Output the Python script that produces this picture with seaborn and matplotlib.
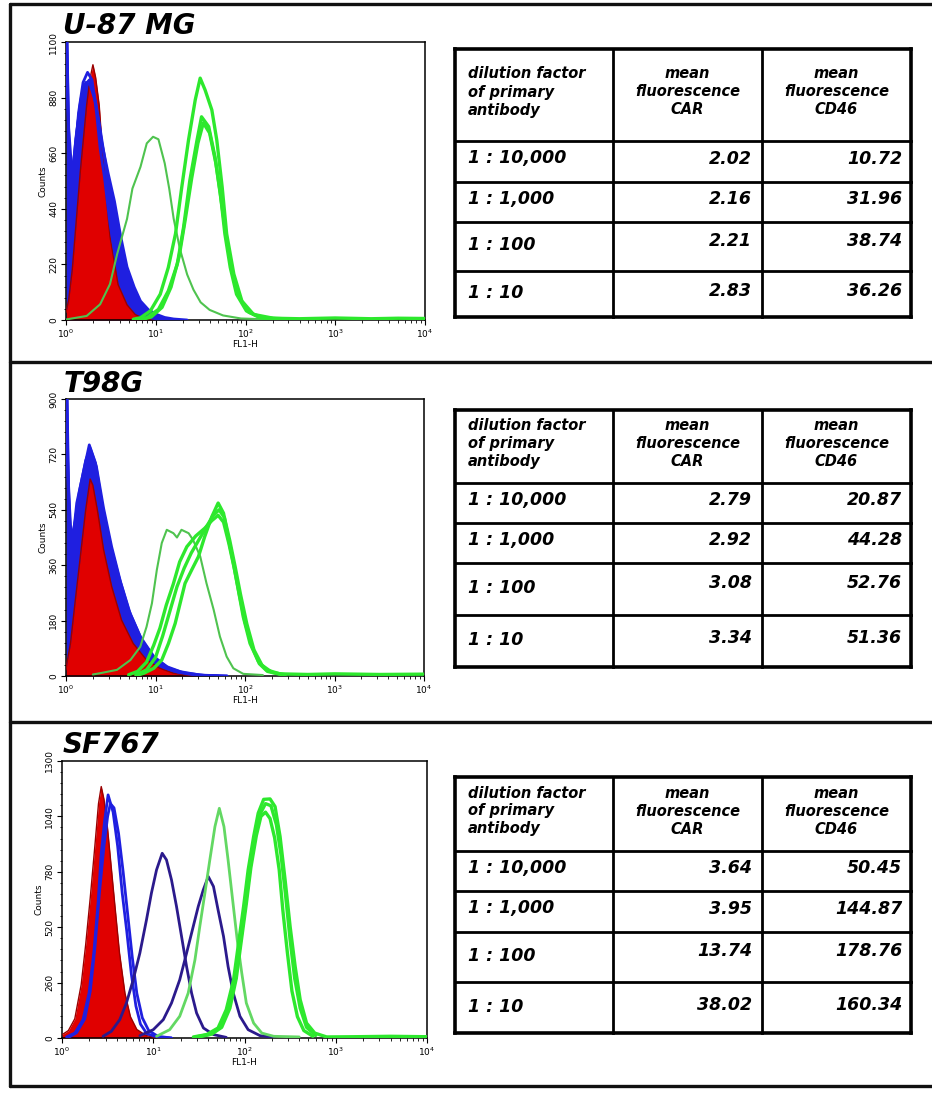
import numpy as np
import pandas as pd
import matplotlib
matplotlib.use('Agg')  # no display
import matplotlib.pyplot as plt
from matplotlib.ticker import FixedLocator, LogLocator, NullFormatter, AutoMinorLocator
import seaborn as sns

# ---------------- data ----------------
# histogram points: (log10 FL1-H, counts)
PANELS = ['U-87 MG', 'T98G', 'SF767']
Y_MAX = [1100, 900, 1300]
Y_TICKS = [[0, 220, 440, 660, 880, 1100],
           [0, 180, 360, 540, 720, 900],
           [0, 260, 520, 780, 1040, 1300]]

# U-87 MG
U87_CTRL = [(0.00, 30), (0.03, 80), (0.07, 200), (0.10, 330), (0.16, 590), (0.23, 850), (0.27, 960),
            (0.30, 1010), (0.33, 960), (0.37, 850), (0.42, 600), (0.49, 330), (0.58, 140), (0.68, 60),
            (0.77, 22), (0.86, 6), (1.00, 0)]
U87_CAR_A = [(0.00, 1300), (0.02, 850), (0.05, 520), (0.09, 620), (0.14, 820), (0.19, 940), (0.24, 980),
             (0.29, 950), (0.34, 820), (0.38, 680), (0.43, 560), (0.49, 380), (0.55, 250), (0.62, 150),
             (0.72, 70), (0.82, 30), (0.95, 8), (1.10, 0)]
U87_CAR_B = [(0.00, 1300), (0.03, 700), (0.06, 540), (0.10, 680), (0.16, 860), (0.21, 930), (0.26, 950),
             (0.31, 900), (0.37, 780), (0.44, 620), (0.50, 480), (0.57, 340), (0.64, 220), (0.72, 130),
             (0.82, 65), (0.92, 28), (1.05, 8), (1.20, 0)]
U87_CAR_C = [(0.00, 1300), (0.03, 760), (0.07, 560), (0.11, 720), (0.17, 880), (0.22, 940), (0.27, 930),
             (0.33, 860), (0.40, 700), (0.47, 580), (0.54, 470), (0.61, 330), (0.68, 210), (0.76, 130),
             (0.83, 75), (0.92, 40), (1.01, 22), (1.10, 10), (1.20, 4), (1.35, 0)]
U87_CD46_A = [(0.00, 2), (0.23, 16), (0.38, 62), (0.49, 142), (0.57, 261), (0.68, 400), (0.74, 520),
              (0.83, 606), (0.90, 699), (0.97, 725), (1.03, 715), (1.10, 620), (1.15, 520), (1.20, 400),
              (1.27, 280), (1.35, 180), (1.42, 120), (1.50, 70), (1.60, 40), (1.75, 18), (1.95, 6),
              (2.20, 3), (2.60, 2)]
U87_CD46_B = [(0.75, 3), (0.83, 9), (0.94, 36), (1.05, 102), (1.14, 208), (1.22, 341), (1.29, 526),
              (1.365, 712), (1.44, 871), (1.495, 957), (1.55, 910), (1.625, 831), (1.68, 712), (1.74, 526),
              (1.79, 341), (1.87, 182), (1.96, 75), (2.09, 22), (2.31, 7), (2.6, 5), (3.0, 8), (3.4, 5),
              (3.7, 7), (4.0, 6)]
U87_CD46_C = [(0.80, 3), (0.90, 9), (1.03, 42), (1.14, 115), (1.24, 221), (1.31, 367), (1.38, 553),
              (1.46, 712), (1.51, 804), (1.59, 765), (1.66, 645), (1.72, 500), (1.77, 341), (1.83, 208),
              (1.90, 102), (2.01, 36), (2.16, 9), (2.40, 4)]
U87_CD46_D = [(0.85, 3), (0.95, 12), (1.07, 50), (1.17, 130), (1.26, 250), (1.33, 400), (1.40, 560),
              (1.47, 700), (1.53, 780), (1.60, 740), (1.67, 620), (1.73, 470), (1.79, 320), (1.85, 190),
              (1.93, 90), (2.04, 30), (2.20, 8), (2.50, 4)]

# T98G
T98G_CTRL = [(0.00, 20), (0.01, 41), (0.05, 106), (0.10, 236), (0.16, 388), (0.22, 540), (0.27, 640),
             (0.30, 620), (0.35, 540), (0.42, 410), (0.51, 291), (0.62, 182), (0.75, 106), (0.90, 52),
             (1.05, 25), (1.20, 9), (1.35, 3), (1.50, 0)]
T98G_CAR_A = [(0.00, 1100), (0.02, 700), (0.05, 430), (0.09, 480), (0.12, 562), (0.20, 670), (0.26, 751),
              (0.33, 692), (0.40, 562), (0.49, 432), (0.59, 323), (0.70, 215), (0.83, 128), (0.98, 63),
              (1.13, 30), (1.28, 14), (1.50, 3), (1.80, 0)]
T98G_CAR_B = [(0.00, 1100), (0.02, 650), (0.05, 420), (0.09, 470), (0.13, 560), (0.20, 660), (0.26, 730),
              (0.32, 670), (0.39, 545), (0.47, 420), (0.57, 310), (0.68, 205), (0.80, 120), (0.95, 58),
              (1.10, 27), (1.25, 12), (1.45, 3), (1.70, 0)]
T98G_CAR_C = [(0.00, 1100), (0.03, 600), (0.06, 440), (0.10, 500), (0.15, 600), (0.22, 700), (0.27, 740),
              (0.34, 680), (0.42, 545), (0.51, 420), (0.61, 305), (0.72, 200), (0.85, 115), (1.00, 55),
              (1.15, 25), (1.32, 10), (1.55, 2), (1.80, 0)]
T98G_CD46_A = [(0.30, 5), (0.38, 9), (0.57, 20), (0.72, 52), (0.83, 95), (0.90, 160), (0.96, 236),
               (1.015, 345), (1.07, 432), (1.126, 475), (1.20, 464), (1.24, 450), (1.29, 475), (1.37, 464),
               (1.42, 442), (1.50, 388), (1.57, 301), (1.65, 215), (1.72, 128), (1.795, 63), (1.87, 25),
               (1.98, 7), (2.20, 3)]
T98G_CD46_B = [(0.80, 3), (0.87, 9), (0.98, 25), (1.07, 52), (1.145, 106), (1.22, 171), (1.275, 236),
               (1.33, 301), (1.405, 345), (1.48, 388), (1.55, 453), (1.63, 518), (1.70, 562), (1.76, 529),
               (1.81, 453), (1.87, 367), (1.925, 280), (1.98, 193), (2.056, 106), (2.15, 47), (2.24, 20),
               (2.39, 7), (2.7, 5), (3.0, 7), (3.5, 5), (4.0, 6)]
T98G_CD46_C = [(0.70, 4), (0.80, 15), (0.90, 45), (0.98, 100), (1.05, 156), (1.12, 230), (1.20, 300),
               (1.27, 371), (1.35, 420), (1.45, 455), (1.55, 480), (1.63, 505), (1.70, 522), (1.76, 500),
               (1.82, 430), (1.88, 350), (1.94, 260), (2.00, 175), (2.08, 95), (2.16, 40), (2.25, 15),
               (2.40, 5)]
T98G_CD46_D = [(0.78, 3), (0.90, 20), (1.00, 60), (1.08, 130), (1.16, 210), (1.24, 290), (1.32, 350),
               (1.40, 400), (1.48, 440), (1.56, 480), (1.64, 520), (1.71, 540), (1.77, 515), (1.83, 440),
               (1.89, 355), (1.95, 265), (2.02, 170), (2.10, 85), (2.19, 35), (2.30, 12), (2.45, 4)]

# SF767
SF767_CTRL = [(0.00, 15), (0.07, 35), (0.14, 90), (0.21, 250), (0.26, 440), (0.31, 660), (0.36, 900),
              (0.40, 1100), (0.43, 1180), (0.46, 1120), (0.50, 980), (0.54, 800), (0.58, 620), (0.63, 400),
              (0.69, 210), (0.75, 100), (0.82, 40), (0.92, 12), (1.05, 0)]
SF767_CAR_A = [(0.05, 5), (0.14, 23), (0.23, 86), (0.296, 211), (0.348, 398), (0.395, 633), (0.43, 867),
               (0.468, 1023), (0.505, 1141), (0.56, 1060), (0.61, 900), (0.66, 680), (0.71, 500),
               (0.76, 300), (0.81, 150), (0.86, 65), (0.93, 20), (1.05, 4), (1.20, 0)]
SF767_CAR_B = [(0.08, 5), (0.16, 25), (0.25, 90), (0.31, 220), (0.36, 420), (0.41, 680), (0.46, 900),
               (0.50, 1040), (0.53, 1100), (0.57, 1080), (0.62, 960), (0.67, 780), (0.72, 580), (0.77, 380),
               (0.82, 210), (0.88, 95), (0.95, 35), (1.05, 8), (1.20, 0)]
SF767_CAR_C = [(0.45, 8), (0.54, 31), (0.633, 86), (0.706, 164), (0.78, 273), (0.853, 398), (0.926, 555),
               (0.98, 680), (1.036, 789), (1.098, 867), (1.145, 836), (1.20, 742), (1.255, 617), (1.31, 477),
               (1.365, 336), (1.42, 211), (1.475, 117), (1.55, 47), (1.66, 16), (1.80, 3)]
SF767_CAR_D = [(0.853, 11), (1.00, 39), (1.11, 86), (1.20, 164), (1.29, 273), (1.365, 398), (1.438, 523),
               (1.493, 617), (1.548, 695), (1.603, 758), (1.66, 711), (1.71, 602), (1.77, 477), (1.82, 336),
               (1.877, 211), (1.95, 102), (2.04, 39), (2.17, 11), (2.32, 3)]
SF767_CD46_A = [(1.036, 8), (1.18, 39), (1.29, 102), (1.383, 211), (1.457, 367), (1.51, 523), (1.566, 680),
                (1.62, 836), (1.676, 992), (1.724, 1078), (1.775, 992), (1.82, 836), (1.87, 648), (1.92, 461),
                (1.97, 305), (2.02, 164), (2.10, 70), (2.19, 23), (2.32, 8), (2.60, 5)]
SF767_CD46_B = [(1.44, 5), (1.585, 16), (1.71, 47), (1.80, 133), (1.88, 273), (1.93, 430), (1.99, 617),
                (2.04, 789), (2.10, 945), (2.15, 1055), (2.21, 1120), (2.28, 1122), (2.335, 1086), (2.39, 945),
                (2.445, 742), (2.50, 523), (2.555, 336), (2.61, 180), (2.68, 70), (2.77, 23), (2.90, 5),
                (3.2, 6), (3.6, 8), (4.0, 6)]
SF767_CD46_C = [(1.50, 5), (1.64, 18), (1.75, 50), (1.84, 140), (1.91, 280), (1.96, 440), (2.02, 630),
                (2.07, 800), (2.13, 950), (2.18, 1040), (2.23, 1060), (2.28, 1030), (2.33, 940), (2.38, 790),
                (2.42, 600), (2.47, 400), (2.52, 220), (2.58, 100), (2.65, 35), (2.75, 8)]
SF767_CD46_D = [(1.47, 5), (1.61, 17), (1.73, 48), (1.82, 135), (1.90, 275), (1.95, 435), (2.01, 625),
                (2.06, 795), (2.12, 950), (2.17, 1050), (2.23, 1100), (2.29, 1090), (2.35, 1000), (2.40, 860),
                (2.45, 670), (2.50, 460), (2.55, 280), (2.61, 140), (2.68, 50), (2.78, 12)]

# tables
DILUTIONS = ['1 : 10,000', '1 : 1,000', '1 : 100', '1 : 10']
U87_MEAN_CAR = [2.02, 2.16, 2.21, 2.83]
U87_MEAN_CD46 = [10.72, 31.96, 38.74, 36.26]
T98G_MEAN_CAR = [2.79, 2.92, 3.08, 3.34]
T98G_MEAN_CD46 = [20.87, 44.28, 52.76, 51.36]
SF767_MEAN_CAR = [3.64, 3.95, 13.74, 38.02]
SF767_MEAN_CD46 = [50.45, 144.87, 178.76, 160.34]
HEADERS = ['dilution factor\nof primary\nantibody', 'mean\nfluorescence\nCAR', 'mean\nfluorescence\nCD46']

# ---------------- layout (pixels) ----------------
W, H = 932, 1093
AX_BOX = [(66, 42, 425, 320), (66, 399, 424, 676), (62, 761, 427, 1038)]
TITLE_POS = [(63, 26), (64, 384), (63, 745)]
TAB_X = [455, 613, 762, 911]
TAB_Y = [[49, 141, 182, 222, 271, 317],
         [410, 483, 523, 563, 615, 667],
         [777, 851, 891, 932, 982, 1033]]

RED = '#e00000'
RED_EDGE = '#9a0000'
BLUE = '#1f1fe0'
NAVY = '#2b1a8c'
GREEN = '#2de82d'
GREEN_THIN = '#4fc34f'


def to_df(points):
    df = pd.DataFrame(points, columns=['log_fl', 'counts'])
    df['fl'] = 10 ** df['log_fl']
    return df


def draw_line(ax, points, color, lw, z):
    df = to_df(points)
    sns.lineplot(data=df, x='fl', y='counts', ax=ax, color=color, lw=lw,
                 estimator=None, sort=False, zorder=z)


def draw_panel(ax, i, ctrl, car, cd46, blue_fill=True, car_colors=None, cd46_styles=None):
    if blue_fill:
        df = to_df(car[-1])
        ax.fill_between(df['fl'], df['counts'], color=BLUE, lw=0, zorder=1)
    df = to_df(ctrl)
    ax.fill_between(df['fl'], df['counts'], color=RED, lw=0, zorder=2)
    draw_line(ax, ctrl, RED_EDGE, 1.0, 3)
    for k, pts in enumerate(car):
        c = car_colors[k] if car_colors else BLUE
        draw_line(ax, pts, c, 2.0, 4)
    for k, pts in enumerate(cd46):
        c, lw = cd46_styles[k]
        draw_line(ax, pts, c, lw, 5)

    ax.set_xscale('log')
    ax.set_xlim(1, 1e4)
    ax.set_ylim(0, Y_MAX[i])
    ax.xaxis.set_major_locator(FixedLocator([1, 10, 100, 1000, 10000]))
    ax.set_xticklabels([r'$10^{0}$', r'$10^{1}$', r'$10^{2}$', r'$10^{3}$', r'$10^{4}$'])
    ax.xaxis.set_minor_locator(LogLocator(base=10, subs=np.arange(2, 10)))
    ax.xaxis.set_minor_formatter(NullFormatter())
    ax.set_yticks(Y_TICKS[i])
    ax.set_yticklabels([str(v) for v in Y_TICKS[i]], rotation=90, va='center')
    ax.yaxis.set_minor_locator(AutoMinorLocator(5))
    ax.tick_params(which='major', direction='out', length=3.5, width=0.8, labelsize=6.5, pad=2,
                   colors='black')
    ax.tick_params(which='minor', direction='out', length=1.8, width=0.6, colors='black')
    ax.set_xlabel('FL1-H', fontsize=6.5, labelpad=0, color='black')
    ax.set_ylabel('Counts', fontsize=6.5, labelpad=1, color='black')
    for sp in ax.spines.values():
        sp.set_visible(True)
        sp.set_linewidth(1.1)
        sp.set_color('black')


def draw_table(ov, ys, car_vals, cd46_vals):
    x0, x3 = TAB_X[0], TAB_X[-1]
    for k, y in enumerate(ys):
        ov.plot([x0, x3], [y, y], color='black', lw=2.6 if k in (0, len(ys) - 1) else 2.0,
                solid_capstyle='projecting')
    for k, x in enumerate(TAB_X):
        ov.plot([x, x], [ys[0], ys[-1]], color='black', lw=2.6 if k in (0, 3) else 2.0,
                solid_capstyle='projecting')
    hc = (ys[0] + ys[1]) / 2 - 3
    txt = dict(fontweight='bold', style='italic', fontsize=10.5, linespacing=1.25, va='center',
               color='black')
    ov.text(x0 + 13, hc, HEADERS[0], ha='left', **txt)
    ov.text((TAB_X[1] + TAB_X[2]) / 2, hc, HEADERS[1], ha='center', multialignment='center', **txt)
    ov.text((TAB_X[2] + TAB_X[3]) / 2, hc, HEADERS[2], ha='center', multialignment='center', **txt)
    cell = dict(fontweight='bold', style='italic', fontsize=12.5, va='center', color='black')
    for r in range(4):
        yc = (ys[r + 1] + ys[r + 2]) / 2 - 3
        ov.text(x0 + 13, yc + (2 if r >= 2 else 0), DILUTIONS[r], ha='left', **cell)
        ov.text(TAB_X[2] - 10, yc - (3 if r == 2 else 0), f'{car_vals[r]:.2f}', ha='right', **cell)
        ov.text(TAB_X[3] - 9, yc - (3 if r == 2 else 0), f'{cd46_vals[r]:.2f}', ha='right', **cell)


def main():
    sns.set_style('ticks')
    plt.rcParams['font.family'] = ['DejaVu Sans']
    plt.rcParams['mathtext.fontset'] = 'dejavusans'
    plt.rcParams['text.color'] = 'black'
    plt.rcParams['axes.labelcolor'] = 'black'

    fig = plt.figure(figsize=(W / 100, H / 100), dpi=100)
    fig.patch.set_facecolor('white')

    # pixel overlay for frame, titles and tables
    ov = fig.add_axes([0, 0, 1, 1])
    ov.set_xlim(0, W)
    ov.set_ylim(H, 0)
    ov.axis('off')

    # outer frame and separators
    for y in (4, 362, 722, 1086):
        ov.plot([10, W], [y, y], color='#111111', lw=2.4)
    ov.plot([10, 10], [4, 1086], color='#111111', lw=2.4)

    axes = []
    for (l, t, r, b) in AX_BOX:
        axes.append(fig.add_axes([l / W, 1 - b / H, (r - l) / W, (b - t) / H]))

    thick = (GREEN, 2.4)
    thin = (GREEN_THIN, 1.5)
    draw_panel(axes[0], 0, U87_CTRL, [U87_CAR_A, U87_CAR_B, U87_CAR_C],
               [U87_CD46_A, U87_CD46_C, U87_CD46_D, U87_CD46_B],
               cd46_styles=[thin, thick, thick, thick])
    draw_panel(axes[1], 1, T98G_CTRL, [T98G_CAR_B, T98G_CAR_C, T98G_CAR_A],
               [T98G_CD46_A, T98G_CD46_C, T98G_CD46_D, T98G_CD46_B],
               cd46_styles=[thin, thick, thick, thick])
    draw_panel(axes[2], 2, SF767_CTRL, [SF767_CAR_A, SF767_CAR_B, SF767_CAR_C, SF767_CAR_D],
               [SF767_CD46_A, SF767_CD46_C, SF767_CD46_D, SF767_CD46_B], blue_fill=False,
               car_colors=[BLUE, BLUE, NAVY, NAVY],
               cd46_styles=[('#63d863', 2.0), thick, thick, thick])

    for name, (x, y) in zip(PANELS, TITLE_POS):
        ov.text(x, y, name, fontsize=20, fontweight='bold', style='italic', ha='left', va='center',
                color='black')

    draw_table(ov, TAB_Y[0], U87_MEAN_CAR, U87_MEAN_CD46)
    draw_table(ov, TAB_Y[1], T98G_MEAN_CAR, T98G_MEAN_CD46)
    draw_table(ov, TAB_Y[2], SF767_MEAN_CAR, SF767_MEAN_CD46)

    fig.savefig('out.png', dpi=100)
    plt.close(fig)


if __name__ == '__main__':
    main()
